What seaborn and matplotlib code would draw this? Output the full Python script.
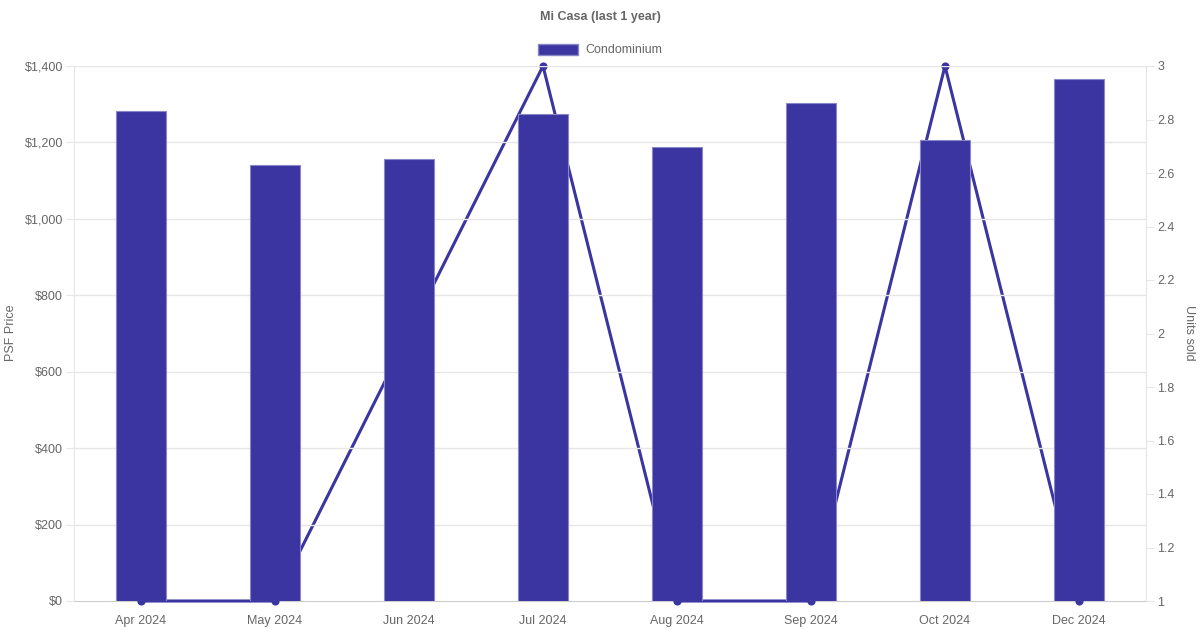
import matplotlib
matplotlib.use("Agg")
import matplotlib.pyplot as plt
from matplotlib.patches import Patch
import seaborn as sns
import pandas as pd

months = ["Apr 2024", "May 2024", "Jun 2024", "Jul 2024", "Aug 2024", "Sep 2024", "Oct 2024", "Dec 2024"]
psf_price = [1282, 1141, 1157, 1274, 1187, 1303, 1206, 1365]
units_sold = [1, 1, 2, 3, 1, 1, 3, 1]
price_ticks = [0, 200, 400, 600, 800, 1000, 1200, 1400]
unit_ticks = [1, 1.2, 1.4, 1.6, 1.8, 2, 2.2, 2.4, 2.6, 2.8, 3]

color = "#3A35A0"
edge = "#8a87c8"
txt = "#666666"
grid = "#e6e6e6"
fs = 9

df = pd.DataFrame({"month": months, "price": psf_price, "units": units_sold})

sns.set_style("white")
plt.rcParams["font.family"] = ["Liberation Sans", "DejaVu Sans"]

fig = plt.figure(figsize=(12, 6.3), dpi=100)
ax = fig.add_axes([74 / 1200, 29 / 630, (1146 - 74) / 1200, (601 - 66) / 630])
ax2 = ax.twinx()

sns.barplot(data=df, x="month", y="price", ax=ax, color=color, width=0.373,
            saturation=1, edgecolor=edge, linewidth=0.8, zorder=3)
sns.pointplot(data=df, x="month", y="units", ax=ax2, color=color,
              markersize=4.2, linewidth=2.2)
for art in ax2.lines + ax2.collections:
    art.set_clip_on(False)
    art.set_zorder(4)

ax.set_zorder(ax2.get_zorder() + 1)
ax.patch.set_visible(False)

ax.set_ylim(0, 1400)
ax.set_yticks(price_ticks)
ax.set_yticklabels([f"${v:,}" for v in price_ticks])
ax2.set_ylim(1, 3)
ax2.set_yticks(unit_ticks)
ax2.set_yticklabels([f"{v:g}" for v in unit_ticks])
ax.set_xlim(-0.5, len(months) - 0.5)

ax.grid(axis="y", color=grid, linewidth=1, zorder=0)
ax.set_axisbelow(True)
ax.yaxis.get_major_ticks()[0].gridline.set_visible(False)
ax2.grid(False)

for a in (ax, ax2):
    for s in a.spines.values():
        s.set_visible(False)
ax.spines["left"].set_visible(True)
ax.spines["left"].set_color(grid)
ax2.spines["bottom"].set_visible(True)
ax2.spines["bottom"].set_color("#cccccc")
ax2.spines["bottom"].set_zorder(1)
ax2.spines["right"].set_visible(True)
ax2.spines["right"].set_color(grid)

ax.tick_params(axis="y", length=5.8, color=grid, labelcolor=txt, labelsize=fs, pad=2.2, left=True)
ax.tick_params(axis="x", length=0, labelcolor=txt, labelsize=fs, pad=10)
ax2.tick_params(axis="y", length=5.8, color=grid, labelcolor=txt, labelsize=fs, pad=2.5, right=True)
ax2.tick_params(axis="x", bottom=False, labelbottom=False)

ax.set_xlabel("")
ax.set_ylabel("")
ax2.set_ylabel("")
ax2.set_xlabel("")
fig.text(11 / 1200, 1 - 333 / 630, "PSF Price", rotation=90, ha="center", va="center",
         color=txt, fontsize=fs)
fig.text(1189 / 1200, 1 - 333 / 630, "Units sold", rotation=270, ha="center", va="center",
         color=txt, fontsize=fs)

fig.text(0.5, 1 - 17 / 630, "Mi Casa (last 1 year)", ha="center", va="center",
         fontsize=fs, fontweight="bold", color=txt)
fig.legend(handles=[Patch(facecolor=color, edgecolor=edge, label="Condominium")],
           loc="center", bbox_to_anchor=(0.5, 1 - 50 / 630), frameon=False,
           fontsize=fs, labelcolor=txt, handlelength=3.2, handleheight=0.96,
           handletextpad=0.6)

fig.savefig("out.png", dpi=100)
